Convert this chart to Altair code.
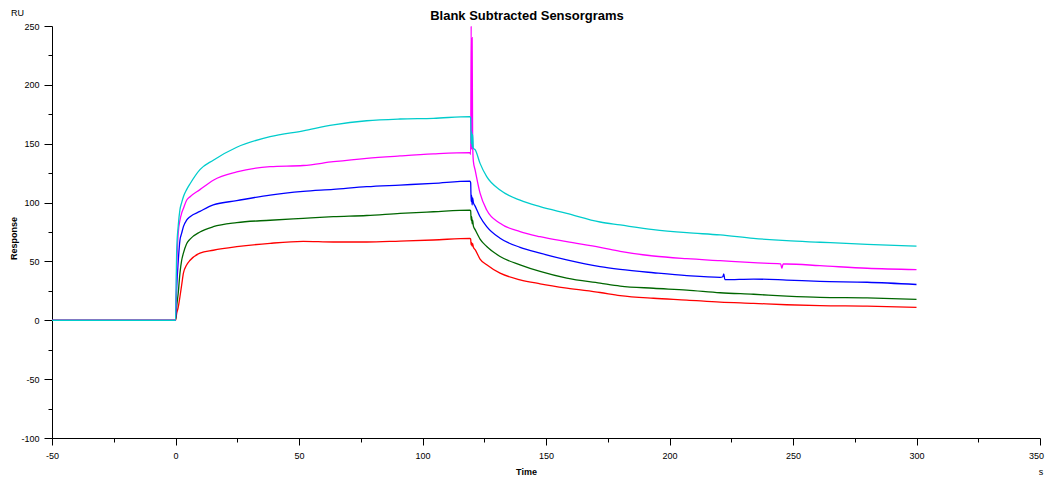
import altair as alt
import pandas as pd

# ---------------- data ----------------
series_names = ["red", "green", "blue", "magenta", "cyan"]
series_colors = ["#FF0000", "#006600", "#0000FF", "#FF00FF", "#00CCCC"]

base_times = [-50, 0]
base_values = [0, 0]

assoc_times = [0.5, 1.1, 1.8, 2.5, 3.2, 4.5, 5.9, 9.9, 15.3, 24.8, 38.3, 51.7,
               63.9, 77.4, 90.9, 104.4, 119.2]
assoc_red = [6, 11, 20, 30, 40, 47, 51, 57, 59.5, 62.5, 65.4, 67, 66.5, 66.5, 67.3, 68.2, 69.6]
assoc_green = [12, 23, 40, 51, 57, 65, 69, 75, 79.5, 83, 85, 86.6, 88, 89, 90.8, 92.2, 93.6]
assoc_blue = [28.6, 50, 68, 74, 79.6, 85, 88, 92.5, 98, 101.6, 106.4, 109.5, 111.2, 113.5, 114.9, 116.3, 118.3]
assoc_magenta = [45, 74, 85, 91, 95, 102, 105, 111, 119, 126, 130.5, 131.5, 134.7, 137.6, 139.6, 141.3, 142.4]
assoc_cyan = [60, 80, 94, 100, 105, 111, 116, 128, 136, 147, 156, 161, 166, 169.5, 171, 171.6, 173]

inject_times = [119.5, 119.7, 119.9, 120.1, 120.3, 120.6]
inject_red = [69, 64, 66, 63, 65, 62]
inject_green = [93, 85, 88, 82, 85, 80]
inject_blue = [117, 101, 106, 98, 104, 100]
inject_magenta = [141, 250, 145, 240, 150, 135]
inject_cyan = [172, 150, 160, 147, 158, 146]

dissoc_times = [121.3, 123.3, 126, 131.4, 139.5, 147.6, 158.4, 171.9, 180, 193.5,
                207, 220.5, 234, 247.4, 260.9, 280, 300]
dissoc_red = [60, 52, 47.1, 40, 34.4, 31, 27.3, 23.6, 21, 18.7, 17.2, 15.5, 14.4, 13.2, 12.4, 12, 11]
dissoc_green = [77, 69, 62.7, 54.2, 47.1, 41.5, 35.8, 31.6, 29.1, 27.2, 25.7, 23.4, 22.1, 20.6, 19.5, 19, 17.8]
dissoc_blue = [97, 88, 79.6, 69.7, 62, 57, 51.3, 45.6, 43.3, 40.4, 37.9, 36.5, 35, 34.2, 33.1, 32.3, 30.4]
dissoc_magenta = [127.7, 108, 93.7, 82.4, 75.3, 71, 66.8, 62, 58.6, 54.6, 52.3, 50.6, 48.9, 47.8, 46.4, 44.2, 43]
dissoc_cyan = [145, 133.3, 122, 110.7, 102, 96.5, 90.8, 83.5, 81, 77, 74.4, 72.5, 69.6, 67.6, 66.3, 64.5, 63]

# small artefacts visible in the reference
blip_blue_times = [221.6, 222.0, 222.4]
blip_blue_values = [37, 39.5, 34.5]
blip_magenta_times = [245.0, 245.5, 246.0]
blip_magenta_values = [47.9, 44.2, 47.8]

# ---------------- assemble ----------------
per_series = {
    "red": (assoc_red, inject_red, dissoc_red, [], []),
    "green": (assoc_green, inject_green, dissoc_green, [], []),
    "blue": (assoc_blue, inject_blue, dissoc_blue, blip_blue_times, blip_blue_values),
    "magenta": (assoc_magenta, inject_magenta, dissoc_magenta, blip_magenta_times, blip_magenta_values),
    "cyan": (assoc_cyan, inject_cyan, dissoc_cyan, [], []),
}

rows = []
for name in series_names:
    a, i, d, bt, bv = per_series[name]
    times = base_times + assoc_times + inject_times + dissoc_times + bt
    vals = base_values + a + i + d + bv
    pts = sorted(zip(times, vals), key=lambda p: p[0])
    for k, (t, v) in enumerate(pts):
        rows.append({"series": name, "time": t, "response": v, "idx": k})
df = pd.DataFrame(rows)

FONT = "Liberation Sans"

x_axis = alt.Axis(
    values=list(range(-50, 351, 25)),
    labelExpr="datum.value % 50 === 0 ? '' + datum.value : ''",
    tickSize={"condition": {"test": "datum.value % 50 === 0", "value": 7}, "value": 4},
    labelOffset={"condition": {"test": "datum.value === 350", "value": -4}, "value": 0},
    title="Time", titleFont=FONT, titleFontSize=9, titleFontWeight="bold",
    titleX=474, titleY=33, titleAlign="center", titleBaseline="middle",
    labelFont=FONT, labelFontSize=9, labelColor="#000000", labelPadding=6,
    labelFlush=False, labelOverlap=False, labelBound=False,
    domainColor="#000000", domainWidth=1, tickColor="#000000", tickWidth=1,
    grid=False,
)
y_axis = alt.Axis(
    values=list(range(-100, 251, 25)),
    labelExpr="datum.value % 50 === 0 ? '' + datum.value : ''",
    tickSize={"condition": {"test": "datum.value % 50 === 0", "value": 8}, "value": 4},
    title="Response", titleFont=FONT, titleFontSize=9, titleFontWeight="bold",
    titleX=-39, titleY=212, titleAngle=270, titleAlign="center", titleBaseline="middle",
    labelFont=FONT, labelFontSize=9, labelColor="#000000", labelPadding=5,
    labelFlush=False, labelOverlap=False, labelBound=False,
    domainColor="#000000", domainWidth=1, tickColor="#000000", tickWidth=1,
    grid=False,
)

lines = alt.Chart(df).mark_line(strokeWidth=1.3, clip=True, interpolate="monotone").encode(
    x=alt.X("time:Q", scale=alt.Scale(domain=[-50, 350], nice=False, zero=False), axis=x_axis),
    y=alt.Y("response:Q", scale=alt.Scale(domain=[-100, 250], nice=False, zero=False), axis=y_axis),
    color=alt.Color("series:N", scale=alt.Scale(domain=series_names, range=series_colors), legend=None),
    detail="series:N",
    order="idx:Q",
)

title_text = alt.Chart(pd.DataFrame({"t": ["Blank Subtracted Sensorgrams"]})).mark_text(
    font=FONT, fontSize=13, fontWeight="bold", color="#000000",
    align="center", baseline="alphabetic",
).encode(text="t:N", x=alt.value(475), y=alt.value(-6))

ru_text = alt.Chart(pd.DataFrame({"t": ["RU"]})).mark_text(
    font=FONT, fontSize=9, color="#000000", align="center", baseline="middle",
).encode(text="t:N", x=alt.value(-34.5), y=alt.value(-13))

s_text = alt.Chart(pd.DataFrame({"t": ["s"]})).mark_text(
    font=FONT, fontSize=9, color="#000000", align="center", baseline="middle",
).encode(text="t:N", x=alt.value(989), y=alt.value(445.7))

chart = alt.layer(lines, title_text, ru_text, s_text).properties(
    width=988, height=412,
    autosize=alt.AutoSizeParams(type="none"),
    padding={"left": 44, "top": 18, "right": 5, "bottom": 38},
    background="#FFFFFF",
).configure_view(stroke=None)

chart.save("out.html", embed_options={"renderer": "svg", "actions": False})
